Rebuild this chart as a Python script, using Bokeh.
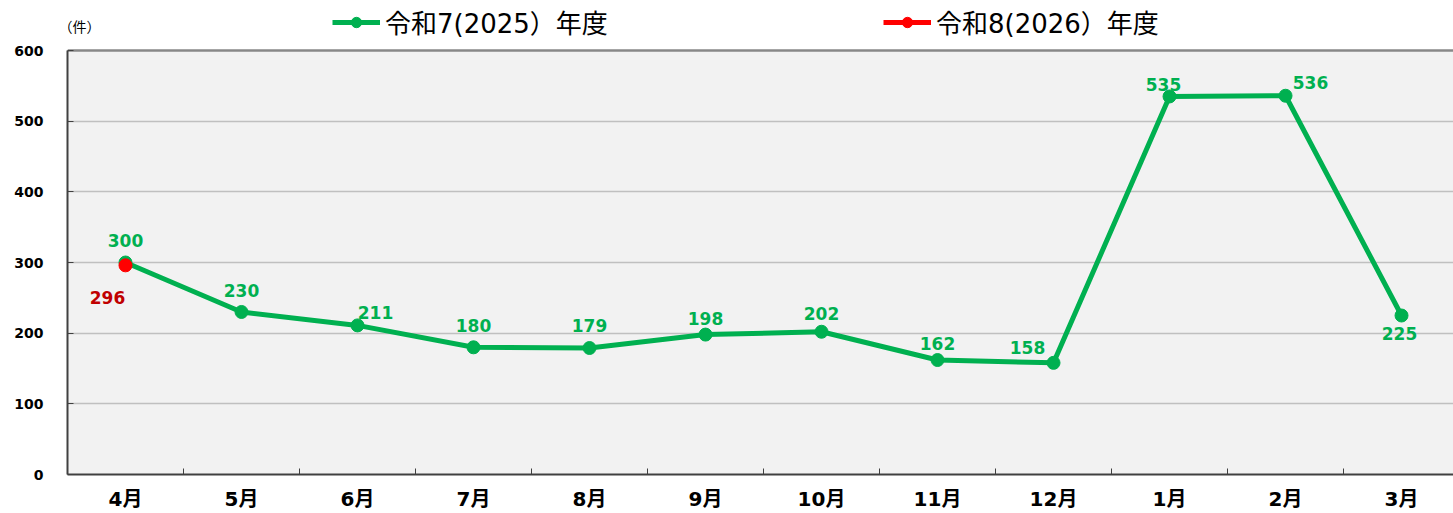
from bokeh.plotting import figure
from bokeh.models import (ColumnDataSource, FixedTicker, Legend, LegendItem, Label, Range1d)
from bokeh.core.properties import value
from bokeh.embed import file_html
from bokeh.resources import INLINE

months = ["4月", "5月", "6月", "7月", "8月", "9月", "10月", "11月", "12月", "1月", "2月", "3月"]
r7_values = [300, 230, 211, 180, 179, 198, 202, 162, 158, 535, 536, 225]
r8_values = [296]
series_names = ["令和7(2025）年度", "令和8(2026）年度"]
y_ticks = [0, 100, 200, 300, 400, 500, 600]

GREEN = "#00b050"
RED = "#ff0000"
LABEL_FONT = "DejaVu Sans"
Y_MAX = 600
Y_TOP = 670.8
X_LO, X_HI = -0.5, 11.448

# label offsets (screen px) for each data label
r7_dx = [0, 0, 18, 0, 0, 0, 0, 0, -26, -6, 25, -2]
r7_dy = [-22, -21, -13, -22, -23, -16, -18, -17, -15, -12, -13, 18]

x7 = list(range(len(r7_values)))
x8 = list(range(len(r8_values)))

p = figure(width=1453, height=513, output_backend="svg", toolbar_location=None,
           x_range=Range1d(X_LO, X_HI), y_range=Range1d(0, Y_TOP),
           min_border_left=67, min_border_right=0, min_border_top=0, min_border_bottom=39)
p.background_fill_color = "white"
p.border_fill_color = "white"
p.outline_line_color = None

# plot-area background (below grid)
p.quad(left=[X_LO], right=[X_HI], bottom=[0], top=[Y_MAX], fill_color="#f2f2f2",
       line_color=None, level="image")

src7 = ColumnDataSource(dict(x=x7, y=r7_values, lab=[str(v) for v in r7_values], dx=r7_dx, dy=r7_dy))
src8 = ColumnDataSource(dict(x=x8, y=r8_values, lab=[str(v) for v in r8_values], dx=[-18], dy=[32]))

l7 = p.line("x", "y", source=src7, line_color=GREEN, line_width=5)
m7 = p.scatter("x", "y", source=src7, size=13, fill_color=GREEN, line_color=GREEN)
l8 = p.line("x", "y", source=src8, line_color=RED, line_width=5)
m8 = p.scatter("x", "y", source=src8, size=13, fill_color=RED, line_color=RED)

p.text("x", "y", text="lab", source=src7, x_offset="dx", y_offset="dy",
       text_align="center", text_baseline="middle", text_color=GREEN,
       text_font=value(LABEL_FONT), text_font_style="bold", text_font_size="17px")
p.text("x", "y", text="lab", source=src8, x_offset="dx", y_offset="dy",
       text_align="center", text_baseline="middle", text_color="#c00000",
       text_font=value(LABEL_FONT), text_font_style="bold", text_font_size="17px")

# axes
p.xaxis.ticker = FixedTicker(ticks=x7, minor_ticks=[i + 0.5 for i in range(11)])
p.xaxis.major_label_overrides = {i: m for i, m in enumerate(months)}
p.xaxis.major_tick_in = 0
p.xaxis.major_tick_out = 0
p.xaxis.minor_tick_in = 6
p.xaxis.minor_tick_out = 0
p.xaxis.minor_tick_line_color = "#404040"
p.xaxis.axis_line_color = "#404040"
p.xaxis.axis_line_width = 2
p.xaxis.major_label_text_font = "DejaVu Sans, Noto Sans CJK JP"
p.xaxis.major_label_text_font_style = "bold"
p.xaxis.major_label_text_font_size = "20px"
p.xaxis.major_label_text_color = "#000000"
p.xaxis.major_label_standoff = 12

p.yaxis.ticker = FixedTicker(ticks=y_ticks)
p.yaxis.bounds = (0, Y_MAX)
p.yaxis.major_tick_in = 6
p.yaxis.major_tick_out = 0
p.yaxis.minor_tick_line_color = None
p.yaxis.major_tick_line_color = "#404040"
p.yaxis.axis_line_color = "#404040"
p.yaxis.axis_line_width = 2
p.yaxis.major_label_text_font = LABEL_FONT
p.yaxis.major_label_text_font_style = "bold"
p.yaxis.major_label_text_font_size = "14px"
p.yaxis.major_label_text_color = "#000000"
p.yaxis.major_label_standoff = 24

p.xgrid.grid_line_color = None
p.ygrid.ticker = FixedTicker(ticks=y_ticks[1:-1])
p.ygrid.grid_line_color = "#c0c0c0"
p.ygrid.grid_line_width = 1.5

# top border line at 600
p.line(x=[X_LO, X_HI], y=[Y_MAX, Y_MAX], line_color="#888888", line_width=2.5)

unit = Label(x=X_LO, y=635, x_offset=-9, text="（件）", text_font_size="14px",
             text_font="Noto Sans CJK JP", text_color="#000000", text_align="left",
             text_baseline="middle")
p.add_layout(unit)

leg_style = dict(orientation="horizontal",
                 label_text_font="DejaVu Sans, Noto Sans CJK JP", label_text_font_size="26px",
                 label_text_color="#000000", glyph_width=48, glyph_height=26,
                 border_line_color=None, background_fill_alpha=0,
                 padding=0, margin=0, label_standoff=5)
legend1 = Legend(items=[LegendItem(label=series_names[0], renderers=[l7, m7])],
                 location=(265, 434), **leg_style)
legend2 = Legend(items=[LegendItem(label=series_names[1], renderers=[l8, m8])],
                 location=(816, 434), **leg_style)
p.add_layout(legend1, "center")
p.add_layout(legend2, "center")

open("out.html", "w").write(file_html(p, INLINE))
